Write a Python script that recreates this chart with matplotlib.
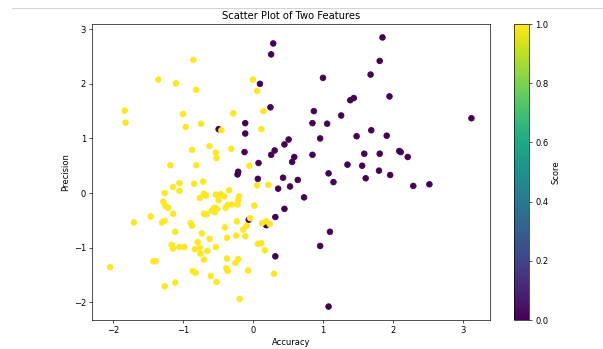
import matplotlib
matplotlib.use("Agg")
import matplotlib.pyplot as plt
from matplotlib.lines import Line2D
import numpy as np

# Class 0 (Score = 0) points
acc0 = [1.85, 1.81, 1.68, 1.00, 1.95, 1.39, 1.44, 0.87, 0.85, 1.06, 1.26, 3.12,
        0.51, 0.45, 0.96, 1.48, 1.69, 1.91, 0.59, 0.56, 0.85, 1.59, 1.81, 2.09,
        2.11, 2.21, 1.35, 1.56, 1.08, 1.80, 1.96, 0.43, 0.64, 1.61, 1.15, 2.29,
        2.52, 0.53, 0.73, 0.45, 1.10, 0.96, 1.08, 0.29, 0.26, 0.10, 0.25, -0.11,
        -0.49, -0.11, 0.31, 0.26, -0.12, 0.08, -0.21, -0.22, 0.07, 0.36, 0.32,
        -0.06, 0.19, 0.32]
prec0 = [2.85, 2.42, 2.17, 2.11, 1.77, 1.70, 1.74, 1.50, 1.28, 1.27, 1.42, 1.37,
         0.98, 0.89, 1.00, 1.04, 1.15, 1.05, 0.66, 0.57, 0.70, 0.72, 0.72, 0.77,
         0.75, 0.66, 0.52, 0.50, 0.36, 0.41, 0.33, 0.28, 0.24, 0.27, 0.20, 0.13,
         0.16, 0.12, -0.08, -0.29, -0.71, -0.97, -2.08, 2.74, 2.54, 2.00, 1.57, 1.28,
         1.17, 1.09, 0.78, 0.70, 0.75, 0.55, 0.39, 0.34, 0.26, 0.08, -0.44,
         -0.49, -0.59, -1.16]

# Class 1 (Score = 1) points
acc1 = [-0.85, -1.35, -1.10, -0.81, 0.00, 0.06, -1.83, -1.82, -1.00, -0.96, -0.74,
        -0.28, 0.15, -0.45, 0.12, -0.87, -0.62, -0.53, -0.52, -0.31, -1.18, -0.81,
        -0.05, -0.71, -1.05, -1.14, -1.26, -1.05, -0.84, -0.34, -0.70, -0.67, -0.76,
        -0.53, -0.46, -0.41, -0.49, -0.20, -0.21, -1.28, -1.25, -1.21, -0.55, -0.36,
        -0.30, -0.22, -0.39, 0.02, 0.06, 0.22, -1.70, -1.46, -1.30, -1.26, -1.14,
        -1.11, 0.13, 0.19, 0.24, -0.04, -0.09, -0.14, -0.11, -0.23, -0.40, -0.37,
        -0.24, -0.54, -0.51, -0.59, -0.66, -0.70, -0.89, -0.87, -0.73, -0.62, -0.79,
        -0.53, -0.83, -0.76, -0.65, -0.75, -0.70, -1.16, -1.14, -1.05, -0.98, -1.42,
        -1.39, -2.04, -1.26, -1.11, -0.86, -0.82, -0.60, -0.52, -0.37, -0.21, -0.25,
        -0.38, -0.36, -0.07, 0.30, -0.19, 0.07, 0.12, 0.17]
prec1 = [2.44, 2.08, 2.01, 1.89, 2.08, 1.87, 1.51, 1.29, 1.45, 1.21, 1.27,
         1.46, 1.50, 1.15, 1.17, 0.79, 0.86, 0.74, 0.64, 0.81, 0.51, 0.51,
         0.50, 0.21, 0.18, 0.11, 0.00, 0.04, 0.17, 0.05, -0.01, -0.05, -0.09,
         -0.03, -0.02, -0.06, -0.13, -0.06, -0.13, -0.16, -0.24, -0.27, -0.27, -0.22,
         -0.21, -0.21, -0.27, -0.23, 0.14, 0.15, -0.54, -0.43, -0.54, -0.51, -0.38,
         -0.71, -0.55, -0.52, -0.57, -0.46, -0.60, -0.67, -0.79, -0.52, -0.63, -0.82,
         -0.78, -0.35, -0.29, -0.32, -0.39, -0.38, -0.55, -0.60, -0.74, -0.84, -0.90,
         -0.99, -1.03, -1.00, -1.06, -1.11, -1.22, -0.95, -1.02, -0.99, -0.99, -1.25,
         -1.25, -1.36, -1.71, -1.64, -1.43, -1.46, -1.52, -1.63, -1.20, -1.21, -1.28,
         -1.38, -1.43, -1.42, -1.48, -1.94, -0.93, -0.92, -1.05]

accuracy = np.array(acc0 + acc1)
precision = np.array(prec0 + prec1)
score = np.array([0.0] * len(acc0) + [1.0] * len(acc1))

fig = plt.figure(figsize=(10, 349 / 60.3), dpi=60.3)
ax = fig.add_axes([92 / 603, 1 - 320 / 349, (489.5 - 92) / 603, (320 - 24) / 349])
cax = fig.add_axes([514 / 603, 1 - 320 / 349, 15.3 / 603, (320 - 24) / 349])

sc = ax.scatter(accuracy, precision, c=score, cmap="viridis", s=45)
ax.set_title("Scatter Plot of Two Features")
ax.set_xlabel("Accuracy")
ax.set_ylabel("Precision")

cb = fig.colorbar(sc, cax=cax)
cb.set_label("Score")

fig.add_artist(Line2D([12 / 603, 1], [1 - 8 / 349, 1 - 8 / 349],
                      transform=fig.transFigure, color="#d4d4d4", lw=1.2))

fig.savefig("out.png", dpi=60.3)
